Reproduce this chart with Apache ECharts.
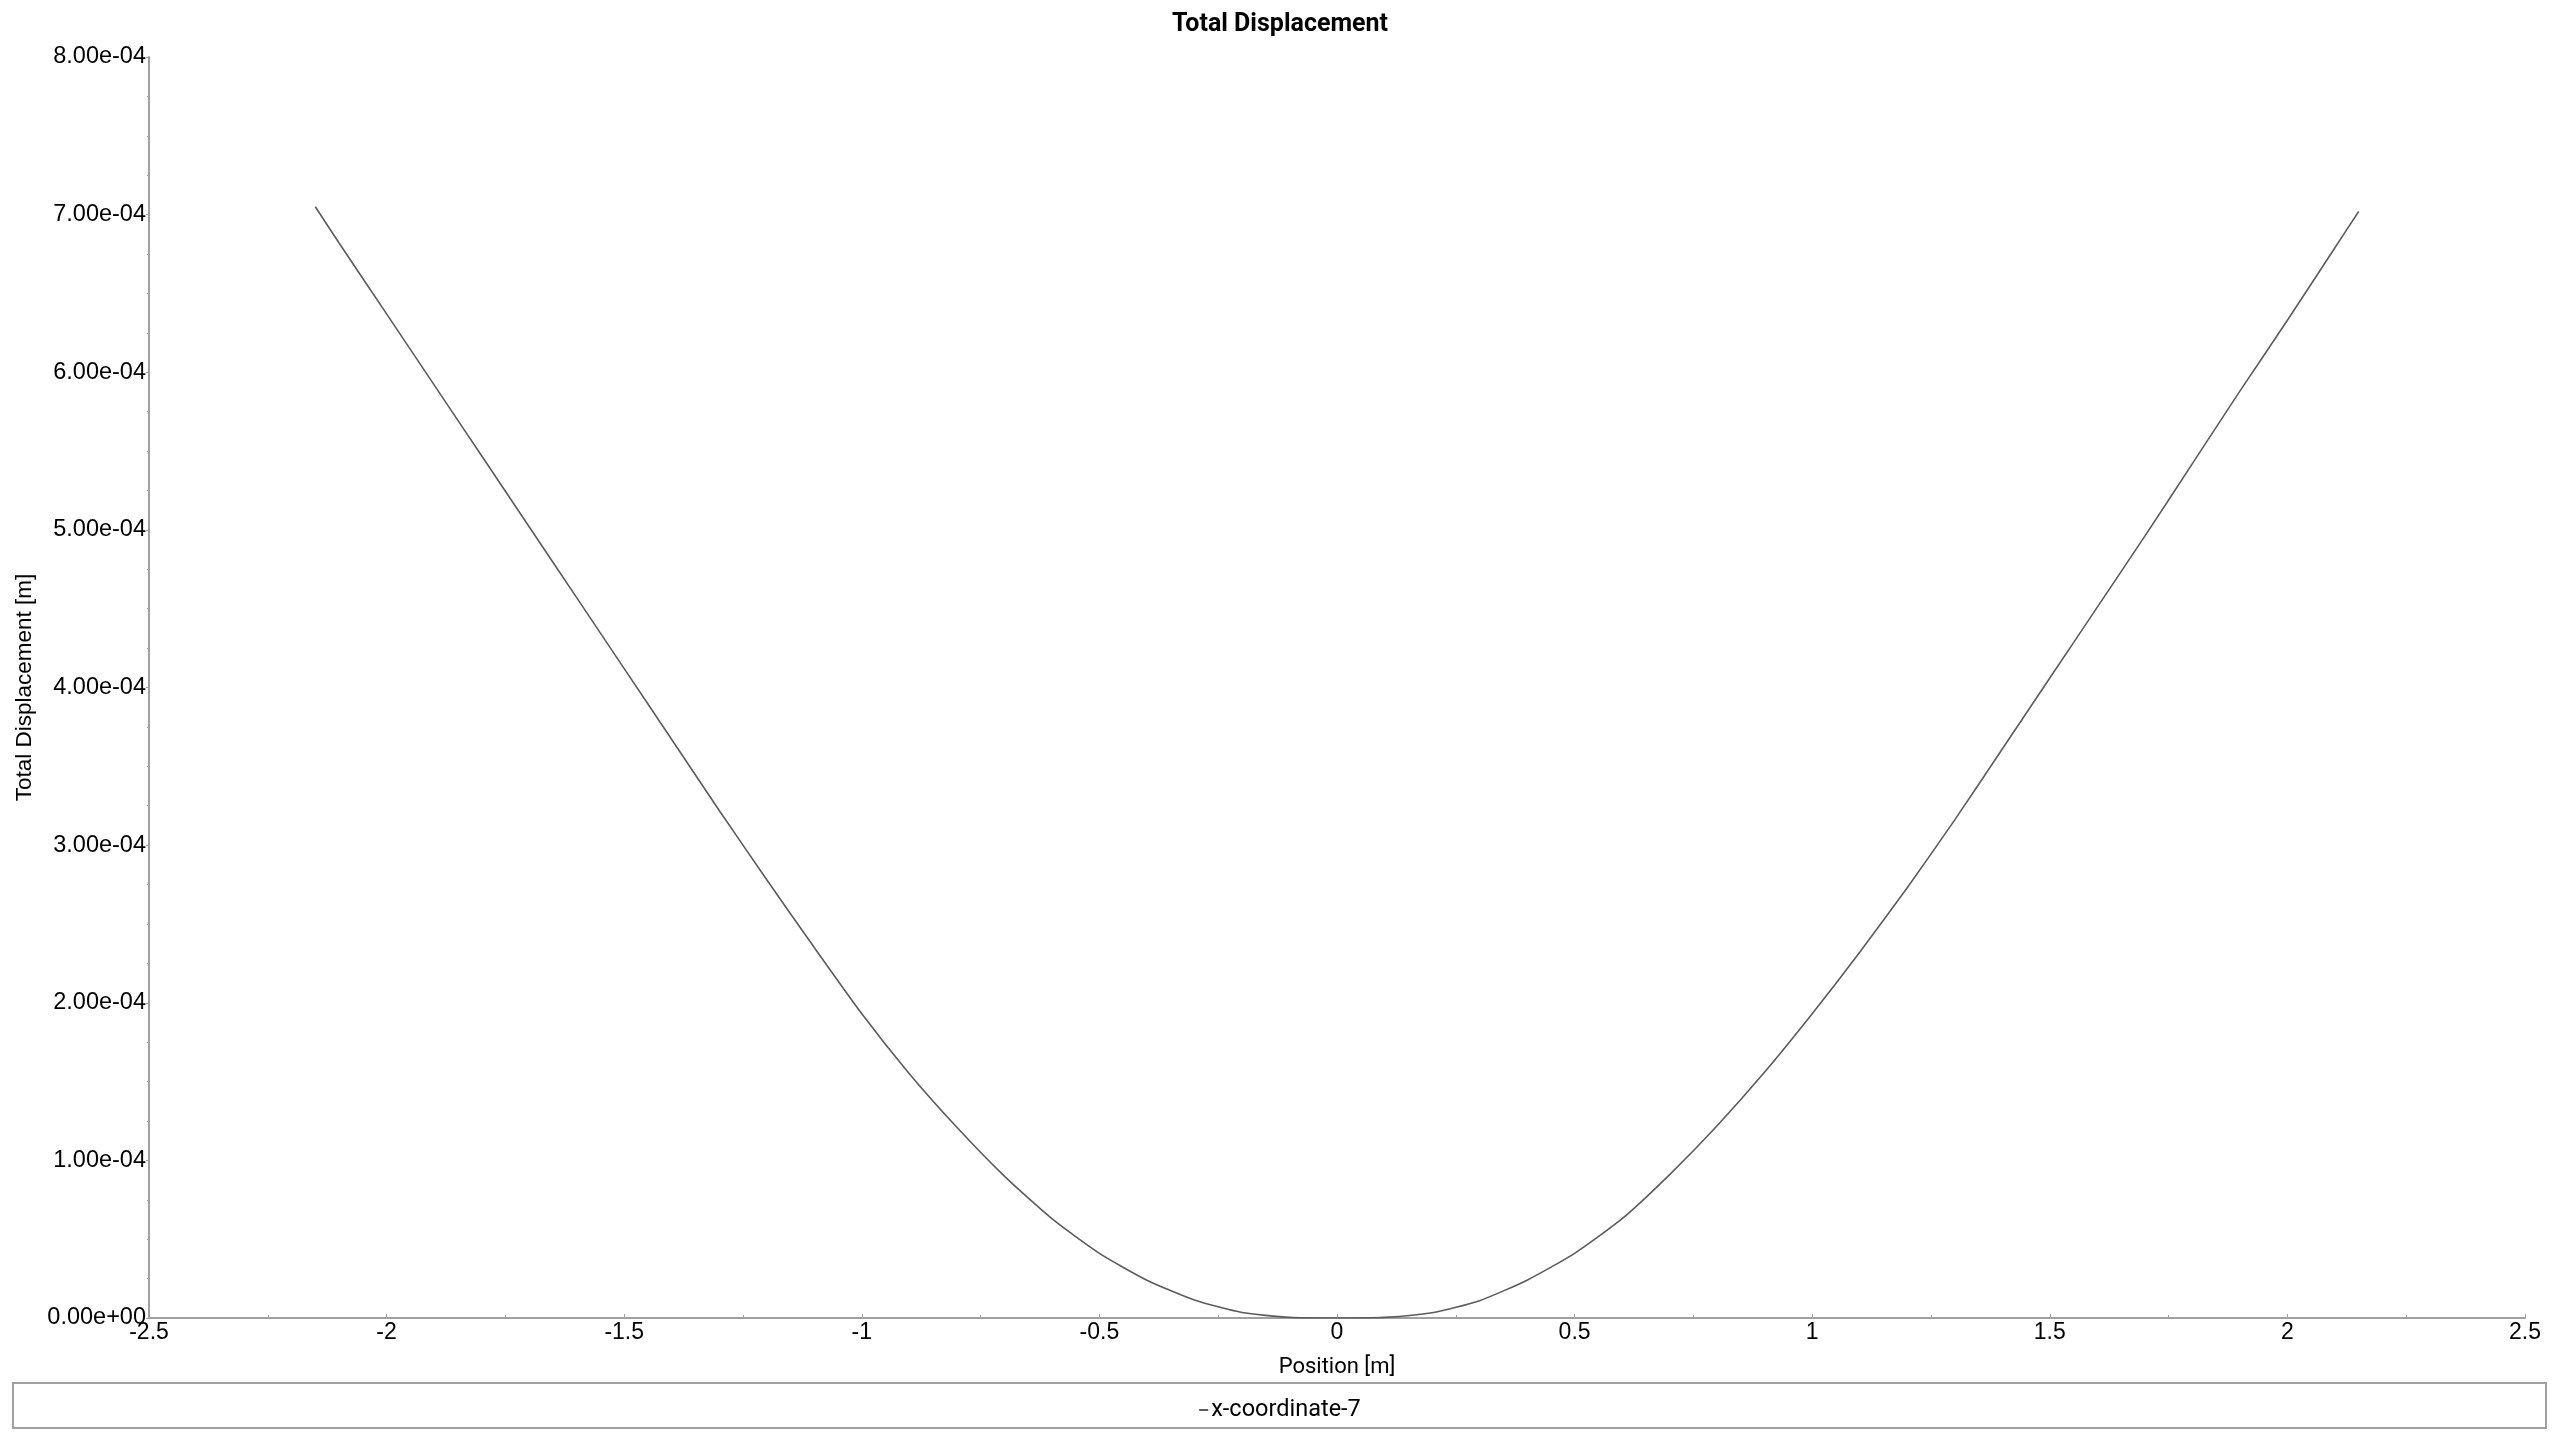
<!DOCTYPE html>
<html>
<head>
<meta charset="utf-8">
<title>Total Displacement</title>
<script src="https://cdn.jsdelivr.net/npm/echarts@6/dist/echarts.min.js"></script>
<style>
html,body{margin:0;padding:0;background:#fff;}
#chart{width:2560px;height:1440px;}
</style>
</head>
<body>
<div id="chart"></div>
<script>
// position along the line [m]
var positions = [-2.15, -2.1, -2.0, -1.9, -1.8, -1.7, -1.6, -1.5, -1.4, -1.3, -1.2, -1.1, -1.0,
	-0.9, -0.8, -0.7, -0.6, -0.5, -0.4, -0.3, -0.2, -0.1, 0,
	0.1, 0.2, 0.3, 0.4, 0.5, 0.6, 0.7, 0.8, 0.9, 1.0,
	1.1, 1.2, 1.3, 1.4, 1.5, 1.6, 1.7, 1.8, 1.9, 2.0, 2.1, 2.15];
// total displacement [m]
var displacement = [7.05e-4, 6.82e-4, 6.37e-4, 5.92e-4, 5.47e-4, 5.02e-4, 4.57e-4, 4.12e-4, 3.67e-4, 3.22e-4, 2.78e-4, 2.35e-4, 1.93e-4,
	1.55e-4, 1.21e-4, 0.90e-4, 0.63e-4, 0.41e-4, 0.24e-4, 0.114e-4, 0.035e-4, 0.004e-4, 0,
	0.004e-4, 0.033e-4, 0.11e-4, 0.24e-4, 0.41e-4, 0.63e-4, 0.91e-4, 1.22e-4, 1.56e-4, 1.93e-4,
	2.32e-4, 2.73e-4, 3.16e-4, 3.61e-4, 4.06e-4, 4.51e-4, 4.96e-4, 5.42e-4, 5.88e-4, 6.33e-4, 6.79e-4, 7.02e-4];
var seriesName = 'x-coordinate-7';

var axisGrey = '#a0a0a0';
var lineGrey = '#5c5c5c';

// 8.00e-04 style labels
function expLabel(v) {
	var s = Number(v).toExponential(2);
	var parts = s.split('e');
	var sign = parts[1].charAt(0);
	var num = parts[1].substring(1);
	if (num.length < 2) num = '0' + num;
	return parts[0] + 'e' + sign + num;
}

var points = [];
for (var i = 0; i < positions.length; i++) {
	points.push([positions[i], displacement[i]]);
}

var myChart = echarts.init(document.getElementById('chart'));
var option = {
	backgroundColor: '#fff',
	animation: false,
	title: {
		text: 'Total Displacement',
		left: 'center',
		top: 12,
		padding: 0,
		textStyle: {
			fontFamily: 'Roboto',
			fontWeight: 'bold',
			fontSize: 25,
			color: '#000'
		}
	},
	grid: {
		left: 149,
		right: 35,
		top: 57,
		bottom: 122
	},
	// legend frame across the full width
	graphic: [{
		type: 'rect',
		shape: {x: 13, y: 1383, width: 2533, height: 45},
		style: {fill: 'none', stroke: axisGrey, lineWidth: 2},
		silent: true
	}],
	legend: {
		data: [{name: seriesName, icon: 'rect'}],
		left: 'center',
		top: 1393,
		itemWidth: 9,
		itemHeight: 2,
		itemGap: 3,
		textStyle: {
			fontFamily: 'Roboto',
			fontSize: 23.5,
			color: '#000',
			padding: [0, 0, 0, -2]
		}
	},
	xAxis: {
		type: 'value',
		min: -2.5,
		max: 2.5,
		interval: 0.5,
		name: 'Position [m]',
		nameLocation: 'middle',
		nameGap: 38,
		nameTextStyle: {
			fontFamily: 'Roboto',
			fontSize: 22,
			color: '#000'
		},
		axisLine: {show: true, onZero: false, lineStyle: {color: axisGrey, width: 2}},
		axisTick: {show: true, inside: true, length: 4, lineStyle: {color: axisGrey}},
		minorTick: {show: true, splitNumber: 2, length: 3, lineStyle: {color: axisGrey}},
		splitLine: {show: false},
		axisLabel: {
			margin: 3,
			fontFamily: 'Liberation Sans',
			fontSize: 23,
			color: '#000'
		}
	},
	yAxis: {
		type: 'value',
		min: 0,
		max: 8e-4,
		interval: 1e-4,
		name: 'Total Displacement [m]',
		nameLocation: 'middle',
		nameGap: 106,
		nameTextStyle: {
			fontFamily: 'Liberation Sans',
			fontSize: 22.5,
			color: '#000'
		},
		axisLine: {show: true, onZero: false, lineStyle: {color: axisGrey, width: 2}},
		axisTick: {show: true, length: 3, lineStyle: {color: axisGrey}},
		minorTick: {show: true, splitNumber: 4, length: 2, lineStyle: {color: axisGrey}},
		splitLine: {show: false},
		axisLabel: {
			margin: 3,
			fontFamily: 'Liberation Sans',
			fontSize: 23.5,
			color: '#000',
			formatter: expLabel
		}
	},
	series: [{
		name: seriesName,
		type: 'line',
		data: points,
		showSymbol: false,
		smooth: 0.2,
		itemStyle: {color: lineGrey},
		lineStyle: {color: lineGrey, width: 1.6}
	}]
};
myChart.setOption(option);
</script>
</body>
</html>
